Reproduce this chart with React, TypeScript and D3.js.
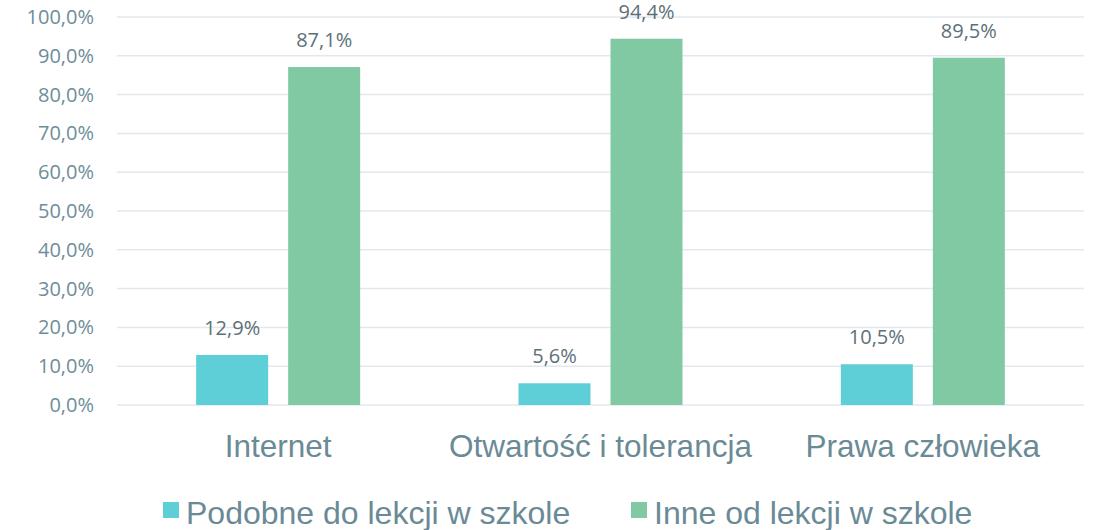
import React from "react";
import * as d3 from "d3";

const categories = ["Internet", "Otwartość i tolerancja", "Prawa człowieka"];
const seriesNames = ["Podobne do lekcji w szkole", "Inne od lekcji w szkole"];
const podobne = [12.9, 5.6, 10.5];
const inne = [87.1, 94.4, 89.5];
const yTicks = [0, 10, 20, 30, 40, 50, 60, 70, 80, 90, 100];
const colors = ["#5ECFD6", "#80C9A3"];

export default function App() {
  const W = 1097, H = 530;
  const left = 117, right = 1084, top = 17, bottom = 405;
  const x = d3.scaleBand().domain(categories).range([left, right]).paddingInner(0).paddingOuter(0);
  const y = d3.scaleLinear().domain([0, 100]).range([bottom, top]);
  const barW = 72, gap = 20;
  const series = [podobne, inne];
  const fmt = (v: number) => v.toFixed(1).replace(".", ",") + "%";
  return (
    <svg width={W} height={H} style={{ position: "absolute", left: 0, top: 0 }}>
      <rect width={W} height={H} fill="#fff" />
      {yTicks.map((t) => (
        <g key={t}>
          <line x1={left} x2={right} y1={y(t)} y2={y(t)} stroke="#E3E8EC" strokeWidth={1.5} />
          <text x={94} y={y(t)} dy="0.35em" textAnchor="end" fontFamily="'Open Sans', sans-serif" fontSize={20} fill="#6E8D99">
            {fmt(t)}
          </text>
        </g>
      ))}
      {categories.map((c, i) => {
        const cx = x(c)! + x.bandwidth() / 2;
        return (
          <g key={c}>
            {series.map((s, j) => {
              const bx = cx + (j === 0 ? -gap / 2 - barW : gap / 2);
              return (
                <g key={j}>
                  <rect x={bx} y={y(s[i])} width={barW} height={y(0) - y(s[i])} fill={colors[j]} />
                  <text x={bx + barW / 2} y={y(s[i]) - 20} textAnchor="middle" fontFamily="'Open Sans', sans-serif" fontSize={20} fill="#5C7078">
                    {fmt(s[i])}
                  </text>
                </g>
              );
            })}
            <text x={cx} y={457} textAnchor="middle" fontFamily="'Liberation Sans', Arial, sans-serif" fontSize={31.5} fill="#6A8A96">
              {c}
            </text>
          </g>
        );
      })}
      {seriesNames.map((n, j) => {
        const lx = j === 0 ? 163 : 631;
        return (
          <g key={n}>
            <rect x={lx} y={502} width={16} height={16} fill={colors[j]} />
            <text x={lx + 23} y={524} fontFamily="'Liberation Sans', Arial, sans-serif" fontSize={32} fill="#6A8A96">
              {n}
            </text>
          </g>
        );
      })}
    </svg>
  );
}
